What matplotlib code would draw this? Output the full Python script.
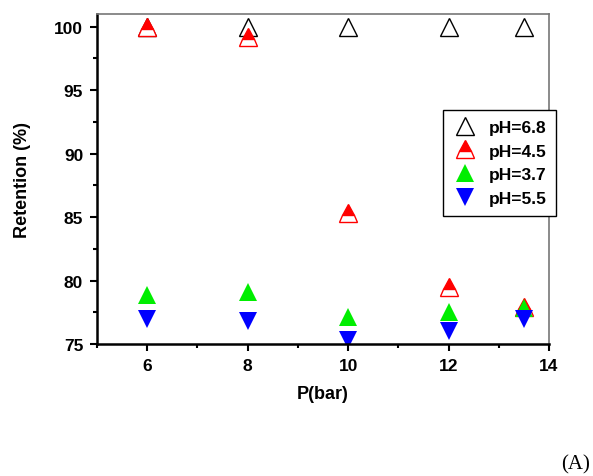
import matplotlib
matplotlib.use('Agg')
import matplotlib.pyplot as plt
from matplotlib.ticker import MultipleLocator

pressure = [6, 8, 10, 12, 13.5]
ret_68 = [100, 100, 100, 100, 100]
ret_45 = [100, 99.2, 85.3, 79.5, 77.9]
ret_37 = [78.9, 79.1, 77.1, 77.5, 77.8]
ret_55 = [77.0, 76.8, 75.3, 76.0, 77.0]

plt.rcParams['font.family'] = ['Liberation Sans', 'DejaVu Sans']
plt.rcParams['font.weight'] = 'bold'

fig = plt.figure(figsize=(5.93, 4.77), dpi=100)
ax = fig.add_axes([0.1636, 0.2767, 0.7622, 0.692])

ms = 13.5
ax.plot(pressure, ret_68, linestyle='none', marker='^', markersize=ms,
        markerfacecolor='none', markeredgecolor='black', markeredgewidth=1.0, label='pH=6.8')
ax.plot(pressure, ret_45, linestyle='none', marker='^', markersize=ms, fillstyle='top',
        markerfacecolor='red', markerfacecoloralt='white', markeredgecolor='red',
        markeredgewidth=1.0, label='pH=4.5')
ax.plot(pressure, ret_37, linestyle='none', marker='^', markersize=ms,
        color='#00ee00', markeredgewidth=0, label='pH=3.7')
ax.plot(pressure, ret_55, linestyle='none', marker='v', markersize=ms,
        color='blue', markeredgewidth=0, label='pH=5.5')

ax.set_xlim(5, 14)
ax.set_ylim(75, 101)
ax.xaxis.set_major_locator(MultipleLocator(2))
ax.xaxis.set_minor_locator(MultipleLocator(1))
ax.yaxis.set_major_locator(MultipleLocator(5))
ax.yaxis.set_minor_locator(MultipleLocator(2.5))
ax.set_xticks([6, 8, 10, 12, 14])

ax.tick_params(which='major', direction='out', length=5, width=1.5, labelsize=12.5, pad=5)
ax.tick_params(which='minor', direction='out', length=3, width=1.5)
for lbl in ax.get_xticklabels() + ax.get_yticklabels():
    lbl.set_fontweight('bold')

ax.spines['left'].set_linewidth(1.8)
ax.spines['bottom'].set_linewidth(1.8)
ax.spines['top'].set_color('#777777')
ax.spines['right'].set_color('#777777')
ax.spines['top'].set_linewidth(1.2)
ax.spines['right'].set_linewidth(1.2)

ax.set_xlabel('P(bar)', fontsize=13, fontweight='bold', labelpad=9)
ax.set_ylabel('Retention (%)', fontsize=13, fontweight='bold', labelpad=17)

leg = ax.legend(loc='upper left', bbox_to_anchor=(443 / 593, 1 - 111 / 477),
                bbox_transform=fig.transFigure, fancybox=False, framealpha=1,
                edgecolor='black', fontsize=12.5, handletextpad=0.7, borderpad=0.55,
                labelspacing=0.5, handlelength=1.4, borderaxespad=0)
leg.get_frame().set_linewidth(1.0)
for t in leg.get_texts():
    t.set_fontweight('bold')

fig.text(0.995, 0.005, '(A)', family='Liberation Serif', fontweight='normal',
         fontsize=15, ha='right', va='bottom')

fig.savefig('out.png', dpi=100)
